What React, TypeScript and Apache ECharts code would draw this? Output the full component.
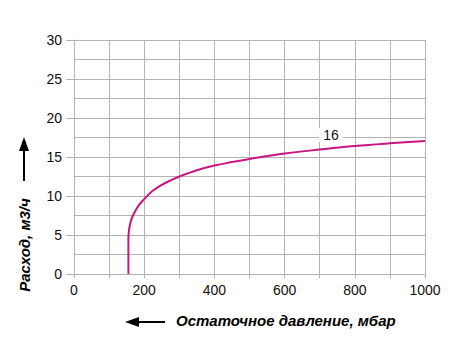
import React, { useEffect, useRef } from "react";
import * as echarts from "echarts";

const pressure = [155, 155, 156, 158, 162, 168, 176, 186, 200, 220, 245, 275, 300, 350, 400, 450, 500, 600, 700, 800, 900, 1000];
const flow = [0, 4.6, 5.3, 6.0, 6.8, 7.5, 8.2, 8.9, 9.6, 10.5, 11.3, 12.0, 12.5, 13.3, 13.9, 14.35, 14.75, 15.45, 15.95, 16.4, 16.75, 17.05];
const curveLabel = "16";
const curveLabelAt = [732, 17.8];
const xTitle = "Остаточное давление, мбар";
const yTitle = "Расход, м3/ч";

const FONT = "'Liberation Sans', Arial, Helvetica, sans-serif";
const GRID = "#b3b3b3";

export default function App() {
  const ref = useRef<HTMLDivElement>(null);
  useEffect(() => {
    const chart = echarts.init(ref.current!, null, { renderer: "svg" });
    const data = pressure.map((p, i) => [p, flow[i]]);
    chart.setOption({
      animation: false,
      backgroundColor: "#ffffff",
      grid: { left: 74, right: 33, top: 40, bottom: 86, containLabel: false },
      xAxis: {
        type: "value",
        min: 0,
        max: 1000,
        interval: 100,
        axisLine: { show: true, lineStyle: { color: GRID, width: 1 } },
        axisTick: { show: true, length: 4, lineStyle: { color: GRID } },
        axisLabel: {
          margin: 9,
          color: "#111",
          fontFamily: FONT,
          fontSize: 14,
          formatter: (v: number) => (v % 200 === 0 ? String(v) : ""),
        },
        splitLine: { show: true, lineStyle: { color: GRID, width: 1 } },
      },
      yAxis: {
        type: "value",
        min: 0,
        max: 30,
        interval: 5,
        axisLine: { show: true, lineStyle: { color: GRID, width: 1 } },
        axisTick: { show: true, length: 8, lineStyle: { color: GRID } },
        axisLabel: { margin: 12, color: "#111", fontFamily: FONT, fontSize: 14 },
        splitLine: { show: true, lineStyle: { color: GRID, width: 1 } },
        minorTick: { show: false, splitNumber: 2 },
        minorSplitLine: { show: true, lineStyle: { color: GRID, width: 1 } },
      },
      series: [
        {
          type: "line",
          data,
          smooth: 0.4,
          symbol: "none",
          lineStyle: { color: "#c8157f", width: 2 },
          markPoint: {
            silent: true,
            symbol: "rect",
            symbolSize: [24, 14],
            itemStyle: { color: "#ffffff" },
            label: {
              show: true,
              position: "inside",
              formatter: curveLabel,
              color: "#111",
              fontFamily: FONT,
              fontSize: 14,
            },
            data: [{ coord: curveLabelAt }],
          },
        },
      ],
      graphic: [
        {
          type: "text",
          left: 176,
          top: 313,
          style: {
            text: xTitle,
            fill: "#000",
            font: `italic bold 15px ${FONT}`,
          },
        },
        {
          type: "line",
          shape: { x1: 136, y1: 322, x2: 165, y2: 322 },
          style: { stroke: "#000", lineWidth: 2 },
        },
        {
          type: "polygon",
          shape: { points: [[125, 322], [139, 317], [139, 327]] },
          style: { fill: "#000" },
        },
        {
          type: "text",
          x: 24,
          y: 245,
          rotation: Math.PI / 2,
          style: {
            text: yTitle,
            fill: "#000",
            font: `italic bold 15px ${FONT}`,
            align: "center",
            verticalAlign: "middle",
          },
        },
        {
          type: "line",
          shape: { x1: 24, y1: 148, x2: 24, y2: 181 },
          style: { stroke: "#000", lineWidth: 2 },
        },
        {
          type: "polygon",
          shape: { points: [[24, 137], [19, 151], [29, 151]] },
          style: { fill: "#000" },
        },
      ],
    });
    return () => chart.dispose();
  }, []);
  return (
    <div
      ref={ref}
      style={{ position: "fixed", left: 0, top: 0, width: 458, height: 360 }}
    />
  );
}
